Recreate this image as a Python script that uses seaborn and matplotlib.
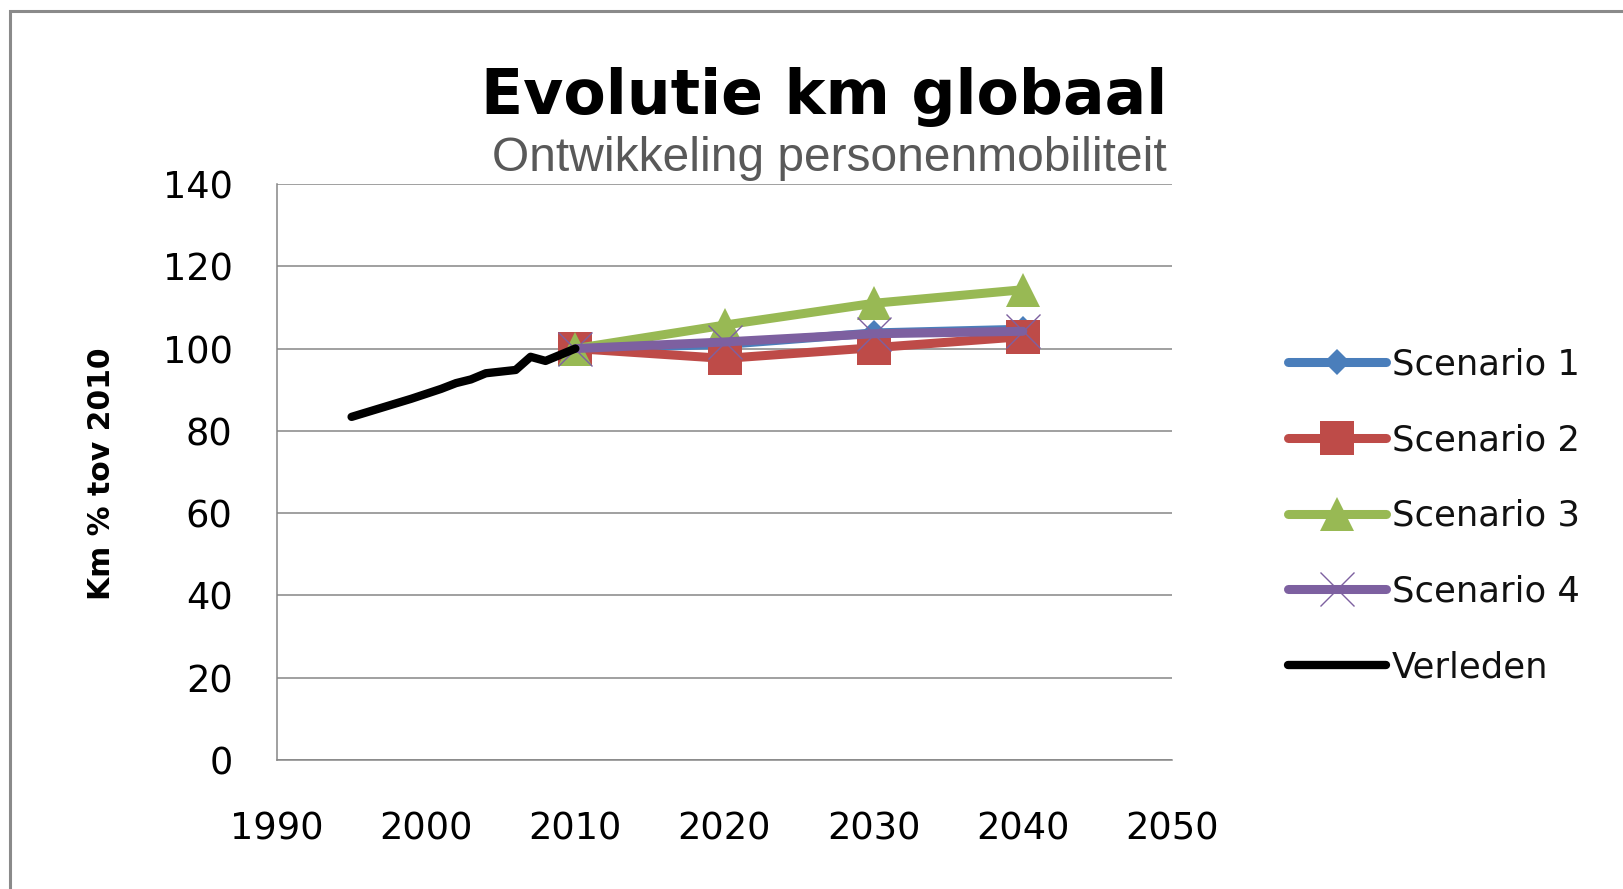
import matplotlib
matplotlib.use("Agg")
import matplotlib.pyplot as plt
import seaborn as sns
import pandas as pd
from matplotlib.patches import Rectangle

sns.set_style("white")
plt.rcParams['font.family'] = ['DejaVu Sans']
plt.rcParams['text.color'] = 'black'

# Historical series (index, 2010 = 100)
past_years = [1995, 1996, 1997, 1998, 1999, 2000, 2001, 2002, 2003, 2004,
              2005, 2006, 2007, 2008, 2009, 2010]
past_values = [83.4, 84.5, 85.6, 86.7, 87.8, 89.0, 90.2, 91.6, 92.5, 94.0,
               94.4, 94.8, 98.0, 97.0, 98.5, 100.0]

# Scenario projections
scen_years = [2010, 2020, 2030, 2040]
scenario_1 = [100.0, 101.0, 103.8, 104.7]
scenario_2 = [100.0, 97.6, 100.2, 102.9]
scenario_3 = [100.0, 105.7, 111.0, 114.3]
scenario_4 = [100.0, 101.6, 103.6, 104.2]

labels = ['Scenario 1', 'Scenario 2', 'Scenario 3', 'Scenario 4', 'Verleden']
colors = ['#4A7EBB', '#BE4B48', '#98B954', '#7D60A0', '#000000']

fig = plt.figure(figsize=(16.23, 8.89), dpi=100)
ax = fig.add_axes([277 / 1623, 1 - 760 / 889, (1172 - 277) / 1623, (760 - 184) / 889])

# outer chart border (cut off at the right and bottom)
fig.patches.append(Rectangle((10 / 1623, -0.2), 1.2, 1.2 - 11 / 889,
                             transform=fig.transFigure, fill=False,
                             edgecolor='#8a8a8a', linewidth=2.2, zorder=0))

marker_styles = [
    dict(marker='D', markersize=13, markeredgewidth=0),
    dict(marker='s', markersize=24, markeredgewidth=0),
    dict(marker='^', markersize=24, markeredgewidth=0),
    dict(marker='x', markersize=24, markeredgewidth=1.0),
]
series = [scenario_1, scenario_2, scenario_3, scenario_4]
for i, vals in enumerate(series):
    df = pd.DataFrame({'jaar': scen_years, 'km': vals})
    sns.lineplot(data=df, x='jaar', y='km', ax=ax, color=colors[i], linewidth=6.5,
                 label=labels[i], zorder=3 + i, solid_capstyle='round',
                 markeredgecolor=colors[i], **marker_styles[i])

df_past = pd.DataFrame({'jaar': past_years, 'km': past_values})
sns.lineplot(data=df_past, x='jaar', y='km', ax=ax, color=colors[4], linewidth=6,
             label=labels[4], zorder=8, solid_capstyle='round')

ax.set_xlim(1990, 2050)
ax.set_ylim(0, 140)
ax.set_xticks(range(1990, 2051, 10))
ax.set_yticks(range(0, 141, 20))
ax.yaxis.grid(True, color='#868686', linewidth=1.1)
ax.xaxis.grid(False)
for s in ['top', 'right']:
    ax.spines[s].set_visible(False)
for s in ['left', 'bottom']:
    ax.spines[s].set_color('#868686')
    ax.spines[s].set_linewidth(1.1)
ax.tick_params(axis='x', length=0, pad=36, labelsize=26.5, colors='black')
ax.tick_params(axis='y', length=0, pad=32, labelsize=26.5, colors='black')
ax.set_xlabel('')
ax.set_ylabel('')

fig.text(101 / 1623, 1 - 474 / 889, 'Km % tov 2010', rotation=90, fontsize=21.5,
         fontweight='bold', ha='center', va='center', color='black')

fig.text(1167 / 1623, 1 - 114 / 889, 'Evolutie km globaal', fontsize=44.5,
         fontweight='bold', ha='right', va='baseline', color='black')
fig.text(1167 / 1623, 1 - 171 / 889, 'Ontwikkeling personenmobiliteit', fontsize=34.5,
         family=['Liberation Sans'], color='#595959', ha='right', va='baseline')

ax.get_legend().remove()
handles, labs = ax.get_legend_handles_labels()
leg = fig.legend(handles, labs, loc='center left', bbox_to_anchor=(1288 / 1623, 1 - 516 / 889),
                 frameon=False, fontsize=25.5, borderpad=0, borderaxespad=0,
                 handlelength=2.77, handletextpad=0.17, labelspacing=1.18, numpoints=1)
for t in leg.get_texts():
    t.set_color('#111111')

fig.savefig('out.png', dpi=100)
